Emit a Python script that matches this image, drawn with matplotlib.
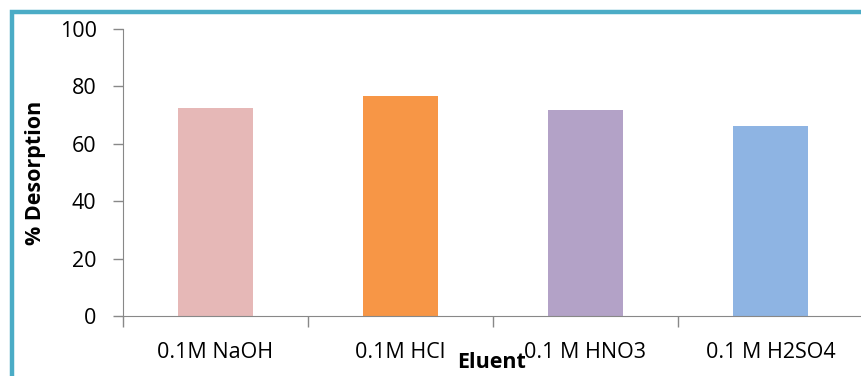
import matplotlib.pyplot as plt
from matplotlib.patches import Rectangle

eluents = ['0.1M NaOH', '0.1M HCl', '0.1 M HNO3', '0.1 M H2SO4']
desorption = [72.5, 76.8, 71.8, 66.2]
colors = ['#E6B8B7', '#F79646', '#B3A2C7', '#8EB4E3']

plt.rcParams['font.family'] = ['Open Sans', 'DejaVu Sans']

W, H = 861, 376
fig = plt.figure(figsize=(W / 100, H / 100), dpi=100)

# teal frame, running off the right and bottom edges
fig.patches.append(Rectangle((12 / W, -0.05), 1.1, 1 - 12 / H + 0.05, transform=fig.transFigure,
                             fill=False, edgecolor='#4BACC6', linewidth=3.2, zorder=0))

x0, x1 = 123, 863
y0, y1 = 316, 29
ax = fig.add_axes([x0 / W, 1 - y0 / H, (x1 - x0) / W, (y0 - y1) / H])
ax.patch.set_alpha(0)

ax.bar(range(len(eluents)), desorption, width=0.405, color=colors)
ax.set_xlim(-0.5, len(eluents) - 0.5)
ax.set_ylim(0, 100)
ax.set_yticks(range(0, 101, 20))
ax.set_xticks([i - 0.5 for i in range(len(eluents) + 1)], minor=False)
ax.set_xticklabels([])
ax.set_xticks(range(len(eluents)), minor=True)
ax.set_xticklabels(eluents, minor=True)
ax.tick_params(axis='x', which='minor', length=0, labelsize=15.5, pad=19)
ax.tick_params(axis='x', which='major', length=8, color='#888888', width=1)
ax.tick_params(axis='y', length=7, color='#888888', width=1, labelsize=15.5, pad=12)

for s in ['top', 'right']:
    ax.spines[s].set_visible(False)
ax.spines['left'].set_color('#888888')
ax.spines['bottom'].set_color('#888888')

fig.text(492 / W, 1 - 362 / H, 'Eluent', ha='center', va='center', fontsize=15.5, fontweight='bold')
fig.text(35 / W, 1 - 173 / H, '% Desorption', ha='center', va='center', rotation=90,
         fontsize=15.5, fontweight='bold')

fig.savefig('out.png', dpi=100)
